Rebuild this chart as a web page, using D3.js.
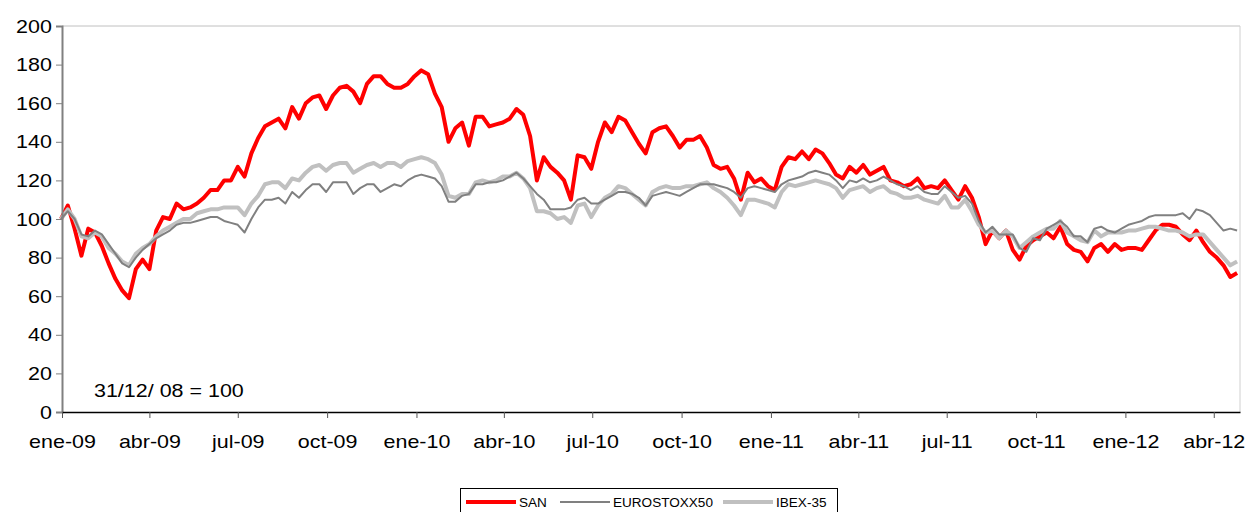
<!DOCTYPE html>
<html>
<head>
<meta charset="utf-8">
<script src="https://cdn.jsdelivr.net/npm/d3@7"></script>
<style>
  body { margin: 0; background: #fff; }
  svg { font-family: "Liberation Sans", Arial, sans-serif; }
</style>
</head>
<body>
<svg id="chart" width="1247" height="512"></svg>
<script>
// weekly closes, base 31/12/08 = 100
let startDate = "2008-12-31";
let san = [100,107,95,81,95,93,86,77,69,63,59,74,79,74,94,101,100,108,105,106,
  108,111,115,115,120,120,127,122,134,142,148,150,152,147,158,152,160,163,164,157,
  164,168,169,166,160,170,174,174,170,168,168,170,174,177,175,165,158,140,147,150,
  138,153,153,148,149,150,152,157,154,143,120,132,127,124,120,110,133,132,126,140,
  150,145,153,151,145,139,134,145,147,148,143,137,141,141,143,137,128,126,127,121,
  110,124,119,121,117,115,127,132,131,135,131,136,134,129,123,121,127,124,128,123,
  125,127,120,119,117,118,121,116,117,116,120,115,110,117,111,101,87,94,90,94,
  84,79,86,89,91,93,90,96,87,84,83,78,85,87,83,87,84,85,85,84,
  89,94,97,97,96,92,89,94,88,83,80,76,70,72];
let eurostoxx = [100,104,100,92,91,94,92,87,82,77,75,80,84,87,90,92,94,97,98,98,
  99,100,101,101,99,98,97,93,100,106,110,110,111,108,114,111,115,118,118,114,
  119,119,119,113,116,118,118,114,116,118,117,120,122,123,122,121,117,109,109,112,
  113,118,118,119,119,120,122,124,121,117,113,110,105,105,105,106,110,111,108,108,
  110,112,114,114,113,111,107,112,113,114,113,112,114,116,118,118,118,117,116,114,
  111,116,117,116,115,114,118,120,121,122,124,125,124,123,120,116,120,119,121,119,
  120,122,120,118,117,115,117,114,113,113,117,114,111,112,108,99,93,96,92,92,
  92,85,83,90,89,95,97,99,96,91,91,88,95,96,94,93,95,97,98,99,
  101,102,102,102,102,103,100,105,104,102,98,94,95,94];
let ibex = [100,105,100,91,90,93,91,85,82,78,76,82,85,87,91,94,96,98,100,100,
  103,104,105,105,106,106,106,102,108,112,118,119,119,116,121,120,124,127,128,125,
  128,129,129,124,126,128,129,127,129,129,127,130,131,132,131,129,123,112,111,113,
  113,119,120,119,120,122,122,124,121,116,104,104,103,100,101,98,107,108,101,107,
  111,113,117,116,113,110,107,114,116,117,116,116,117,117,118,119,116,114,111,107,
  102,110,110,109,108,106,114,118,117,118,119,120,119,118,116,111,115,116,117,114,
  116,117,114,113,111,111,112,110,109,108,112,106,106,110,104,97,93,94,90,94,
  91,85,88,91,93,95,95,99,93,91,89,88,94,91,93,93,93,94,94,95,
  96,96,95,94,94,93,91,92,92,88,84,80,76,78];

let yTicks = [0,20,40,60,80,100,120,140,160,180,200];
let xTickDates = ["2009-01-01","2009-04-01","2009-07-01","2009-10-01","2010-01-01","2010-04-01",
  "2010-07-01","2010-10-01","2011-01-01","2011-04-01","2011-07-01","2011-10-01","2012-01-01","2012-04-01"];
let xTickLabels = ["ene-09","abr-09","jul-09","oct-09","ene-10","abr-10","jul-10","oct-10",
  "ene-11","abr-11","jul-11","oct-11","ene-12","abr-12"];

let seriesNames = ["SAN","EUROSTOXX50","IBEX-35"];
let seriesColors = ["#ff0000","#808080","#c0c0c0"];
let seriesWidths = [4,2,4];

let parse = d3.utcParse("%Y-%m-%d");
let t0 = parse(startDate);
let dates = san.map((d,i) => d3.utcDay.offset(t0, 7*i));

let svg = d3.select("#chart");
let plotLeft = 62, plotRight = 1240, plotTop = 26, plotBottom = 412;
let stretch = 1.13;   // text in the original is a bit wider than Arial

let x = d3.scaleUtc()
  .domain([parse("2009-01-01"), parse("2012-04-28")])
  .range([plotLeft, plotRight]);
let y = d3.scaleLinear().domain([0,200]).range([plotBottom, plotTop]);

// plot frame (top and right, light)
svg.append("line").attr("x1",plotLeft).attr("x2",plotRight).attr("y1",plotTop).attr("y2",plotTop)
  .attr("stroke","#c0c0c0").attr("stroke-width",1);
svg.append("line").attr("x1",plotRight).attr("x2",plotRight).attr("y1",plotTop).attr("y2",plotBottom)
  .attr("stroke","#d0d0d0").attr("stroke-width",1);

// lines
let line = d3.line().x((d,i) => x(dates[i])).y(d => y(d));
let drawOrder = [0,2,1];
let allSeries = [san, eurostoxx, ibex];
drawOrder.forEach(function(k){
  svg.append("path")
    .datum(allSeries[k])
    .attr("fill","none")
    .attr("stroke",seriesColors[k])
    .attr("stroke-width",seriesWidths[k])
    .attr("stroke-linejoin","round")
    .attr("d",line);
});

// y axis
let yAxis = d3.axisLeft(y).tickValues(yTicks).tickSize(6).tickPadding(3);
let gy = svg.append("g").attr("transform",`translate(${plotLeft},0)`).call(yAxis);
gy.select(".domain").attr("stroke","#808080").attr("stroke-width",2);
gy.selectAll(".tick line").attr("stroke","#808080");
gy.selectAll("text").attr("font-size",19).attr("fill","#000")
  .attr("font-family","Liberation Sans, Arial, sans-serif")
  .attr("transform",`scale(${stretch},1)`);

// x axis
let xAxis = d3.axisBottom(x)
  .tickValues(xTickDates.map(parse))
  .tickFormat((d,i) => xTickLabels[i])
  .tickSize(6).tickSizeOuter(0).tickPadding(17);
let gx = svg.append("g").attr("transform",`translate(0,${plotBottom})`).call(xAxis);
gx.select(".domain").attr("stroke","#000").attr("stroke-width",1.5);
gx.selectAll(".tick line").attr("stroke","#555");
gx.selectAll("text").attr("font-size",19).attr("fill","#000")
  .attr("font-family","Liberation Sans, Arial, sans-serif")
  .attr("transform",`scale(${stretch},1)`);

// base note
svg.append("text").attr("transform",`translate(94,397) scale(${stretch},1)`)
  .attr("font-size",19).text("31/12/ 08 = 100");

// legend
let lg = svg.append("g");
lg.append("rect").attr("x",460.5).attr("y",488.5).attr("width",377).attr("height",30)
  .attr("fill","#fff").attr("stroke","#000").attr("stroke-width",1);
let legendX = [466, 560, 723];
seriesNames.forEach(function(name,k){
  lg.append("line").attr("x1",legendX[k]).attr("x2",legendX[k]+50)
    .attr("y1",502).attr("y2",502)
    .attr("stroke",seriesColors[k]).attr("stroke-width",seriesWidths[k]);
  lg.append("text").attr("transform",`translate(${legendX[k]+53},506.5) scale(${stretch},1)`)
    .attr("font-size",12).text(name);
});
</script>
</body>
</html>
